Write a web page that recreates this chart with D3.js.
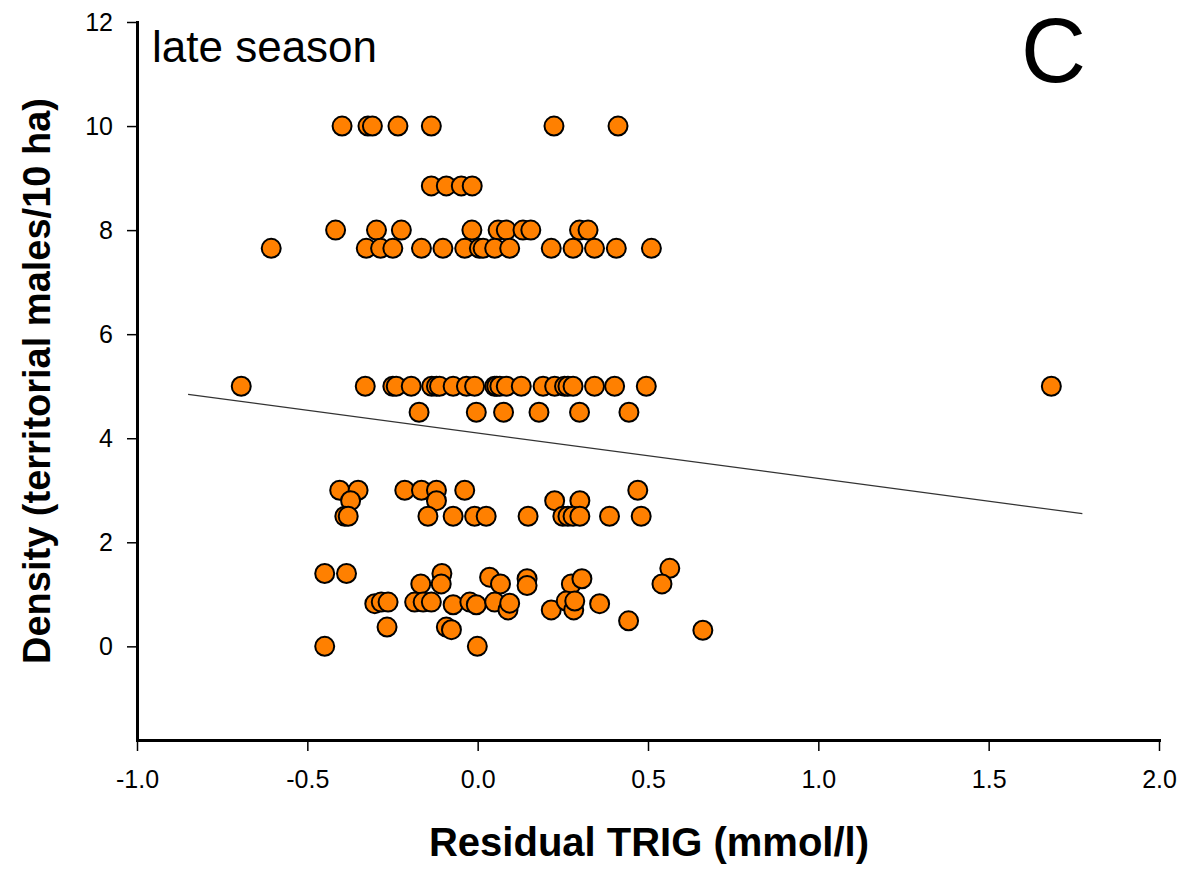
<!DOCTYPE html>
<html>
<head>
<meta charset="utf-8">
<script src="https://cdn.jsdelivr.net/npm/d3@7"></script>
<style>
  html, body { margin: 0; padding: 0; background: #fff; }
  svg { display: block; font-family: Arial, "Liberation Sans", sans-serif; }
</style>
</head>
<body>
<svg id="chart" width="1186" height="871"></svg>
<script>
// Residual triglyceride vs. density of territorial males (late season)
const residualTrig = [
  // density 10
  -0.398, -0.322, -0.309, -0.234, -0.136, 0.224, 0.412,
  // density 8.85
  -0.136, -0.092, -0.048, -0.016,
  // density 8
  -0.417, -0.297, -0.224, -0.017, 0.060, 0.084, 0.133, 0.156, 0.299, 0.324,
  // density 7.65
  -0.606, -0.327, -0.285, -0.249, -0.165, -0.102, -0.038, 0.005, 0.016, 0.050, 0.094, 0.216, 0.280, 0.343, 0.407, 0.510,
  // density 5
  -0.694, -0.330, -0.249, -0.239, -0.195, -0.135, -0.121, -0.112, -0.072, -0.033, -0.009, 0.050, 0.056, 0.065, 0.084,
  0.128, 0.192, 0.226, 0.255, 0.265, 0.280, 0.343, 0.402, 0.495, 1.684,
  // density 4.5
  -0.172, -0.004, 0.076, 0.180, 0.299, 0.444,
  // density 3
  -0.405, -0.351, -0.214, -0.165, -0.121, -0.038, 0.470,
  // density 2.8
  -0.373, -0.121, 0.226, 0.300,
  // density 2.5
  -0.390, -0.380, -0.146, -0.072, -0.009, 0.025, 0.148, 0.250, 0.265, 0.280, 0.300, 0.387, 0.480,
  // density 1.2 - 1.5
  -0.449, -0.385, -0.105, -0.107, -0.167, 0.035, 0.067, 0.145, 0.145, 0.275, 0.306, 0.564, 0.541,
  // density 0.7 - 0.87
  -0.302, -0.283, -0.263, -0.185, -0.160, -0.136, -0.072, -0.023, -0.004, 0.050, 0.089, 0.094, 0.216, 0.260, 0.282, 0.285, 0.358,
  // density 0.3 - 0.5
  -0.266, -0.092, -0.077, 0.443, 0.661,
  // density 0
  -0.449, -0.001
];

const density = [
  10, 10, 10, 10, 10, 10, 10,
  8.85, 8.85, 8.85, 8.85,
  8, 8, 8, 8, 8, 8, 8, 8, 8, 8,
  7.65, 7.65, 7.65, 7.65, 7.65, 7.65, 7.65, 7.65, 7.65, 7.65, 7.65, 7.65, 7.65, 7.65, 7.65, 7.65,
  5, 5, 5, 5, 5, 5, 5, 5, 5, 5, 5, 5, 5, 5, 5,
  5, 5, 5, 5, 5, 5, 5, 5, 5, 5,
  4.5, 4.5, 4.5, 4.5, 4.5, 4.5,
  3, 3, 3, 3, 3, 3, 3,
  2.8, 2.8, 2.8, 2.8,
  2.5, 2.5, 2.5, 2.5, 2.5, 2.5, 2.5, 2.5, 2.5, 2.5, 2.5, 2.5, 2.5,
  1.4, 1.4, 1.4, 1.2, 1.2, 1.33, 1.2, 1.3, 1.17, 1.2, 1.3, 1.5, 1.2,
  0.82, 0.85, 0.85, 0.85, 0.85, 0.85, 0.8, 0.85, 0.8, 0.85, 0.7, 0.83, 0.7, 0.87, 0.7, 0.87, 0.82,
  0.37, 0.37, 0.32, 0.49, 0.31,
  0, 0
];

// Linear regression of density on residual TRIG
const fitRange = [-0.85, 1.775];
const fitIntercept = 4.10;
const fitSlope = -0.873;

const xTicks = [-1.0, -0.5, 0.0, 0.5, 1.0, 1.5, 2.0];
const yTicks = [0, 2, 4, 6, 8, 10, 12];

const xTitle = "Residual TRIG (mmol/l)";
const yTitle = "Density (territorial males/10 ha)";
const panelNote = "late season";
const panelLetter = "C";

const svg = d3.select("#chart");

const x = d3.scaleLinear().domain([-1.0, 2.0]).range([137, 1159]);
const y = d3.scaleLinear().domain([-1.8, 12]).range([740, 22]);

// Tick labels use a plain hyphen for negatives
const fmtX = v => d3.format(".1f")(v).replace("\u2212", "-");

// Axes
const xAxis = svg.append("g")
  .attr("transform", `translate(0,${y(-1.8)})`)
  .call(d3.axisBottom(x).tickValues(xTicks).tickFormat(fmtX)
    .tickSize(11).tickSizeOuter(0).tickPadding(19));

const yAxis = svg.append("g")
  .attr("transform", `translate(${x(-1.0)},0)`)
  .call(d3.axisLeft(y).tickValues(yTicks).tickFormat(d3.format("d"))
    .tickSize(10).tickSizeOuter(0).tickPadding(14));

[xAxis, yAxis].forEach(g => {
  g.select(".domain").attr("stroke", "#000").attr("stroke-width", 3)
    .attr("stroke-linecap", "square");
  g.selectAll(".tick line").attr("stroke", "#000").attr("stroke-width", 1.5);
  g.selectAll(".tick text").attr("fill", "#000")
    .style("font-size", "25px").style("font-family", "Arial, 'Liberation Sans', sans-serif");
});

// Regression line
svg.append("line")
  .attr("x1", x(fitRange[0])).attr("y1", y(fitIntercept + fitSlope * fitRange[0]))
  .attr("x2", x(fitRange[1])).attr("y2", y(fitIntercept + fitSlope * fitRange[1]))
  .attr("stroke", "#333").attr("stroke-width", 1.2);

// Data points
const points = residualTrig.map((v, i) => ({ r: v, d: density[i] }));
svg.append("g").selectAll("circle")
  .data(points)
  .join("circle")
  .attr("cx", d => x(d.r))
  .attr("cy", d => y(d.d))
  .attr("r", 9.5)
  .attr("fill", "#ff8000")
  .attr("stroke", "#000")
  .attr("stroke-width", 2);

// Axis titles
svg.append("text")
  .attr("x", 649).attr("y", 856)
  .attr("text-anchor", "middle")
  .style("font-size", "40px").style("font-weight", "bold")
  .text(xTitle);

svg.append("text")
  .attr("transform", "translate(50,381) rotate(-90)")
  .attr("text-anchor", "middle")
  .style("font-size", "38px").style("font-weight", "bold")
  .text(yTitle);

// Panel annotations
svg.append("text")
  .attr("x", 152).attr("y", 62)
  .style("font-size", "44px")
  .text(panelNote);

svg.append("text")
  .attr("x", 1021).attr("y", 82)
  .style("font-size", "90px")
  .text(panelLetter);
</script>
</body>
</html>
